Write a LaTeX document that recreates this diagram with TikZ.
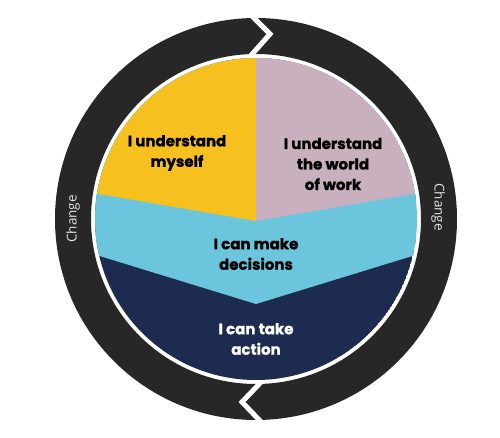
\documentclass[tikz,border=0pt]{standalone}
\usepackage{fontspec}
\newfontfamily\labfont{Poppins}[BoldFeatures={FakeBold=1.2}]
\newfontfamily\chfont{Open Sans}
\definecolor{ringdark}{HTML}{272727}
\definecolor{secyellow}{HTML}{F6C11E}
\definecolor{secpink}{HTML}{C9B0BE}
\definecolor{secblue}{HTML}{6BC5DD}
\definecolor{secnavy}{HTML}{1C2B4F}
\definecolor{chgray}{HTML}{E2E2E2}
\begin{document}
\begin{tikzpicture}[x=1pt,y=-1pt,
  lab/.style={align=center,font=\labfont\bfseries\fontsize{15}{20.5}\selectfont,text=black,inner sep=0pt},
  chg/.style={font=\chfont\fontsize{13.5}{15}\selectfont,text=chgray,inner sep=0pt},
  brk/.style={white,line width=5pt,line join=miter}]
\useasboundingbox (0,0) rectangle (500,438);
\coordinate (c) at (256,219);
% ring
\fill[ringdark,even odd rule] (c) circle[radius=201] (c) circle[radius=165];
% chevron breaks
\draw[brk] (248,12) -- (270,34) -- (248,58.8);
\draw[brk] (264,379) -- (242,402) -- (265,426);
% inner disc
\begin{scope}
  \clip (c) circle[radius=161];
  \fill[secnavy] (c) circle[radius=161];
  \fill[secblue] (56,0) -- (56,242.6) -- (256,304) -- (456,242.6) -- (456,0) -- cycle;
  \fill[secyellow] (56,0) -- (56,186.6) -- (256,221) -- (256,0) -- cycle;
  \fill[secpink] (256,0) -- (256,221) -- (456,186.6) -- (456,0) -- cycle;
\end{scope}
% labels
\node[lab] (t1) at (177,153) {I understand\\myself};
\node[lab] (t2) at (333,164) {I understand\\the world\\of work};
\node[lab] (t3) at (256,254) {I can make\\decisions};
\node[lab,text=white] (t4) at (256,339) {I can take\\action};
\node[chg,rotate=90] (c1) at (73,219) {Change};
\node[chg,rotate=-90] (c2) at (438,207) {Change};
\end{tikzpicture}
\end{document}
